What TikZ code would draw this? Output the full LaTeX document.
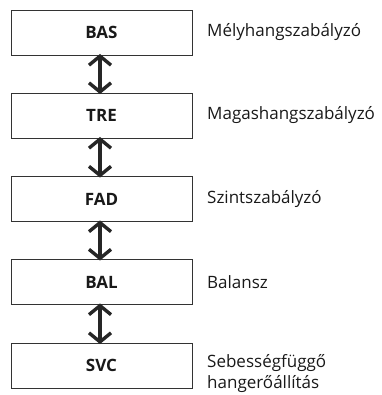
\documentclass[tikz,border=0pt]{standalone}
\usepackage{fontspec}
\setmainfont{Open Sans}
\usetikzlibrary{arrows.meta}
\begin{document}
\begin{tikzpicture}[x=1pt,y=-1pt,
  box/.style={draw=black!80, line width=0.9pt, minimum width=181pt, minimum height=45pt, inner sep=0pt, font=\fontsize{17}{20}\selectfont\bfseries, text=black!90},
  lbl/.style={anchor=west, align=left, inner sep=0pt, font=\fontsize{17}{21}\selectfont, text=black!90},
  conn/.style={line width=3.4pt, draw=black!85, {Straight Barb[length=9pt,width=22pt]}-{Straight Barb[length=9pt,width=22pt]}}]
\useasboundingbox (0,0) rectangle (381,395);
\node[box] (b1) at (101.5,32.5) {BAS};
\node[box] (b2) at (101.5,115.5) {TRE};
\node[box] (b3) at (101.5,199) {FAD};
\node[box] (b4) at (101.5,282) {BAL};
\node[box] (b5) at (101.5,365.5) {SVC};
\node[lbl] (l1) at (207,32.5) {Mélyhangszabályzó};
\node[lbl] (l2) at (207,115.5) {Magashangszabályzó};
\node[lbl] (l3) at (207,199) {Szintszabályzó};
\node[lbl] (l4) at (207,282) {Balansz};
\node[lbl] (l5) at (207,373.5) {Sebességfüggő\\hangerőállítás};
\foreach \a/\b in {b1/b2,b2/b3,b3/b4,b4/b5}
  \draw[conn] ([yshift=1.5pt]\a.south -| 100,0) -- ([yshift=-1.5pt]\b.north -| 100,0);
\end{tikzpicture}
\end{document}
